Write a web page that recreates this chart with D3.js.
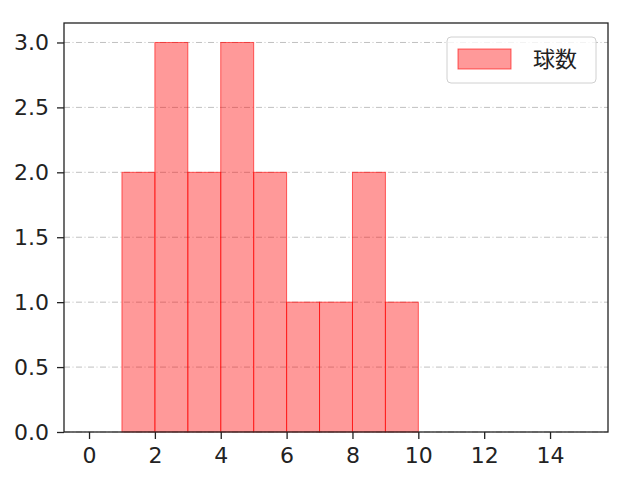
<!DOCTYPE html>
<html>
<head>
<meta charset="utf-8">
<script src="https://cdn.jsdelivr.net/npm/d3@7"></script>
<style>
  body { margin: 0; background: #fff; }
  text { font-family: "Noto Sans CJK JP", "DejaVu Sans", sans-serif; }
</style>
</head>
<body>
<div id="chart"></div>
<script>
// histogram bins and counts
var binStarts = [1, 2, 3, 4, 5, 6, 7, 8, 9];
var counts = [2, 3, 2, 3, 2, 1, 1, 2, 1];
var xTicks = [0, 2, 4, 6, 8, 10, 12, 14];
var yTicks = [0, 0.5, 1.0, 1.5, 2.0, 2.5, 3.0];
var seriesName = "球数";

var svgWidth = 640, svgHeight = 480;
var margin = {top: 23, right: 32, bottom: 48, left: 64};
var width = svgWidth - margin.left - margin.right;
var height = svgHeight - margin.top - margin.bottom;

var svg = d3.select("#chart").append("svg")
  .attr("width", svgWidth)
  .attr("height", svgHeight);

var g = svg.append("g")
  .attr("transform", `translate(${margin.left}, ${margin.top})`);

var x = d3.scaleLinear().domain([-0.76, 15.76]).range([0, width]);
var y = d3.scaleLinear().domain([0, 3.15]).range([height, 0]);

// grid
g.selectAll(".grid")
  .data(yTicks)
  .enter().append("line")
  .attr("x1", 0).attr("x2", width)
  .attr("y1", d => y(d)).attr("y2", d => y(d))
  .attr("stroke", "#b0b0b0")
  .attr("stroke-width", 0.8)
  .attr("stroke-dasharray", "6,2.5,1,2.5");

// bars
g.selectAll(".bar")
  .data(binStarts)
  .enter().append("rect")
  .attr("x", d => x(d))
  .attr("y", (d, i) => y(counts[i]))
  .attr("width", d => x(d + 1) - x(d))
  .attr("height", (d, i) => y(0) - y(counts[i]))
  .attr("fill", "rgba(255,0,0,0.4)")
  .attr("stroke", "rgba(255,0,0,0.6)")
  .attr("stroke-width", 1);

// axes
var bottomAxis = d3.axisBottom(x).tickValues(xTicks).tickFormat(d3.format("d")).tickSize(7).tickPadding(8);
var leftAxis = d3.axisLeft(y).tickValues(yTicks).tickFormat(d3.format(".1f")).tickSize(7).tickPadding(8);

var xa = g.append("g").attr("transform", `translate(0, ${height})`).call(bottomAxis);
var ya = g.append("g").call(leftAxis);
[xa, ya].forEach(function(a) {
  a.select(".domain").remove();
  a.selectAll("line").attr("stroke", "#222").attr("stroke-width", 1.3);
  a.selectAll("text").attr("font-size", 22).attr("fill", "#222")
    .style("font-family", "'DejaVu Sans', sans-serif");
});

// frame
g.append("rect")
  .attr("width", width).attr("height", height)
  .attr("fill", "none")
  .attr("stroke", "#222")
  .attr("stroke-width", 1.3);

// legend
var lg = g.append("g").attr("transform", `translate(${447 - margin.left}, ${37 - margin.top})`);
lg.append("rect")
  .attr("width", 149).attr("height", 46).attr("rx", 4)
  .attr("fill", "#fff").attr("fill-opacity", 0.8)
  .attr("stroke", "#d0d0d0");
lg.append("rect")
  .attr("x", 11).attr("y", 12).attr("width", 53).attr("height", 20)
  .attr("fill", "rgba(255,0,0,0.4)")
  .attr("stroke", "rgba(255,0,0,0.6)");
lg.append("text")
  .attr("x", 86).attr("y", 30)
  .attr("font-size", 22).attr("fill", "#222")
  .text(seriesName);
</script>
</body>
</html>
